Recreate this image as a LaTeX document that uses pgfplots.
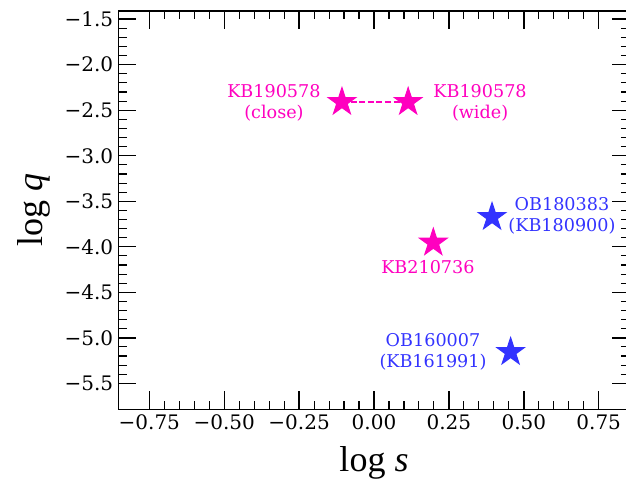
\documentclass[border=0pt]{standalone}
\usepackage{fontspec}
\setmainfont{DejaVu Serif}
\newfontfamily\timesf{Liberation Serif}
\usepackage{pgfplots}
\pgfplotsset{compat=1.18}
\definecolor{mag}{RGB}{255,0,191}
\definecolor{blu}{RGB}{51,51,255}
\makeatletter
\pgfdeclareplotmark{mstar}{%
  \pgfpathmoveto{\pgfqpointpolar{90}{\pgfplotmarksize}}%
  \pgfpathlineto{\pgfqpointpolar{126}{0.382\pgfplotmarksize}}%
  \pgfpathlineto{\pgfqpointpolar{162}{\pgfplotmarksize}}%
  \pgfpathlineto{\pgfqpointpolar{198}{0.382\pgfplotmarksize}}%
  \pgfpathlineto{\pgfqpointpolar{234}{\pgfplotmarksize}}%
  \pgfpathlineto{\pgfqpointpolar{270}{0.382\pgfplotmarksize}}%
  \pgfpathlineto{\pgfqpointpolar{306}{\pgfplotmarksize}}%
  \pgfpathlineto{\pgfqpointpolar{342}{0.382\pgfplotmarksize}}%
  \pgfpathlineto{\pgfqpointpolar{18}{\pgfplotmarksize}}%
  \pgfpathlineto{\pgfqpointpolar{54}{0.382\pgfplotmarksize}}%
  \pgfpathclose
  \pgfusepathqfillstroke}
\makeatother
\begin{document}
\begin{tikzpicture}
\useasboundingbox (0,0) rectangle (626pt,487pt);
\begin{axis}[
  at={(118.3pt,77.7pt)}, anchor=south west,
  scale only axis, width=511.4pt, height=398.3pt,
  xmin=-0.8535, xmax=0.8535, ymin=-5.785, ymax=-1.41,
  xtick={-0.75,-0.5,-0.25,0,0.25,0.5,0.75},
  xticklabels={−0.75,−0.50,−0.25,0.00,0.25,0.50,0.75},
  ytick={-5.5,-5,-4.5,-4,-3.5,-3,-2.5,-2,-1.5},
  yticklabels={−5.5,−5.0,−4.5,−4.0,−3.5,−3.0,−2.5,−2.0,−1.5},
  minor tick num=4,
  tick align=inside, tick pos=both,
  major tick length=18pt, minor tick length=8.5pt,
  major tick style={black, line width=1.4pt},
  minor tick style={black, line width=1.1pt},
  axis line style={line width=1.5pt},
  tick label style={font=\fontsize{20}{24}\selectfont},
  xticklabel style={yshift=-2pt},
  yticklabel style={xshift=-1.6pt},
  xlabel={\timesf log \textit{s}}, ylabel={\timesf log \textit{q}},
  label style={font=\fontsize{36}{40}\selectfont},
  xlabel style={at={(axis description cs:0.5,-0.1567)}, anchor=base},
  ylabel style={at={(axis description cs:-0.1486,0.5)}, anchor=base},
  clip=false,
]
\addplot[mag, line width=1.5pt, dash pattern=on 6pt off 2.6pt, mark=none] coordinates {(-0.107,-2.41) (0.114,-2.41)};
\addplot[only marks, mark=mstar, mark size=14.5pt, color=mag, mark options={fill=mag, line width=1pt}] coordinates {(-0.107,-2.41) (0.114,-2.41) (0.198,-3.955)};
\addplot[only marks, mark=mstar, mark size=14.5pt, color=blu, mark options={fill=blu, line width=1pt}] coordinates {(0.394,-3.673) (0.456,-5.156)};
\node[text=mag, align=center, font=\fontsize{17.6}{21}\selectfont] at (axis cs:-0.334,-2.414) {KB190578\\(close)};
\node[text=mag, align=center, font=\fontsize{17.6}{21}\selectfont] at (axis cs:0.354,-2.414) {KB190578\\(wide)};
\node[text=mag, align=center, font=\fontsize{17.6}{21}\selectfont] at (axis cs:0.18,-4.226) {KB210736};
\node[text=blu, align=center, font=\fontsize{17.6}{21}\selectfont] at (axis cs:0.6275,-3.658) {OB180383\\(KB180900)};
\node[text=blu, align=center, font=\fontsize{17.6}{21}\selectfont] at (axis cs:0.197,-5.151) {OB160007\\(KB161991)};
\end{axis}
\end{tikzpicture}
\end{document}
